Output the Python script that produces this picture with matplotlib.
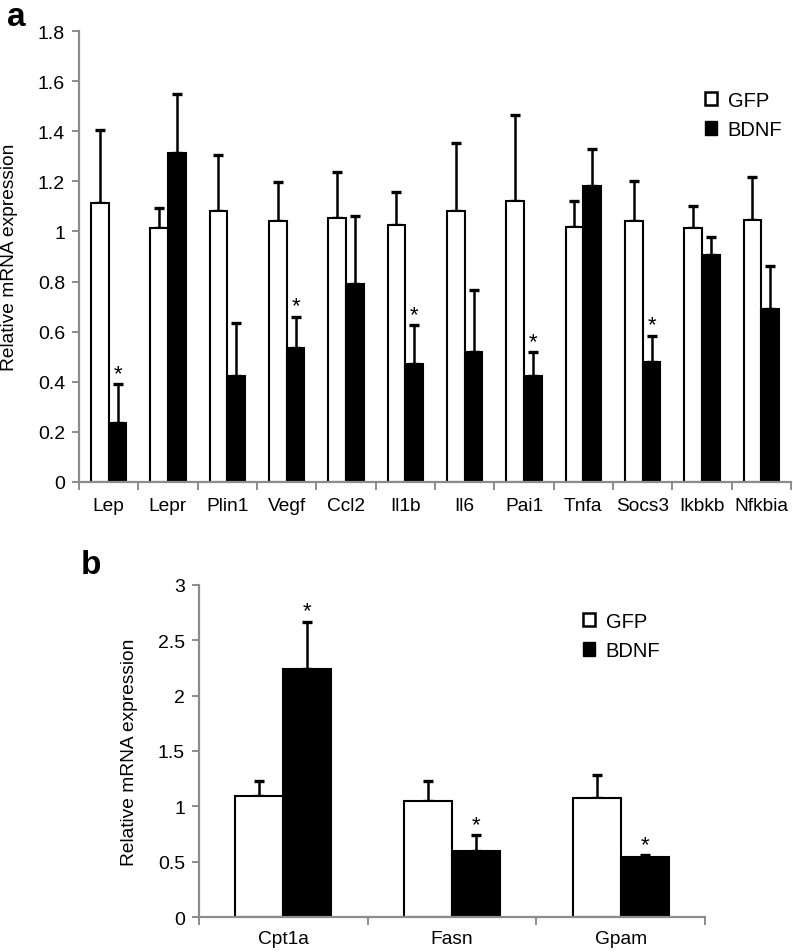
import numpy as np
import matplotlib.pyplot as plt
from matplotlib.patches import Patch

plt.rcParams['font.family'] = ['Liberation Sans', 'DejaVu Sans']

# panel a
genes_a = ["Lep", "Lepr", "Plin1", "Vegf", "Ccl2", "Il1b", "Il6", "Pai1", "Tnfa", "Socs3", "Ikbkb", "Nfkbia"]
gfp_a = [1.113, 1.013, 1.081, 1.040, 1.053, 1.026, 1.081, 1.123, 1.019, 1.041, 1.012, 1.047]
gfp_a_err = [0.292, 0.080, 0.224, 0.156, 0.183, 0.130, 0.271, 0.343, 0.102, 0.161, 0.088, 0.169]
bdnf_a = [0.235, 1.313, 0.424, 0.533, 0.790, 0.472, 0.520, 0.424, 1.182, 0.479, 0.906, 0.689]
bdnf_a_err = [0.155, 0.234, 0.210, 0.127, 0.271, 0.154, 0.247, 0.096, 0.148, 0.105, 0.073, 0.174]
sig_a = [True, False, False, True, False, True, False, True, False, True, False, False]

# panel b
genes_b = ["Cpt1a", "Fasn", "Gpam"]
gfp_b = [1.091, 1.051, 1.076]
gfp_b_err = [0.141, 0.181, 0.207]
bdnf_b = [2.239, 0.600, 0.541]
bdnf_b_err = [0.427, 0.142, 0.021]
sig_b = [True, True, True]

W, H = 793, 953
fig = plt.figure(figsize=(W / 100, H / 100), dpi=100)

spine_col = "#8c8c8c"


def draw_panel(ax, genes, gfp, gfp_err, bdnf, bdnf_err, sig, ymax, ystep, bw, xpad):
    x = np.arange(len(genes))
    ax.bar(x - bw / 2, gfp, bw, color="white", edgecolor="black", linewidth=1.5, zorder=2)
    ax.bar(x + bw / 2, bdnf, bw, color="black", edgecolor="black", linewidth=1.5, zorder=2)
    ax.errorbar(x - bw / 2, gfp, yerr=[np.zeros(len(x)), gfp_err], fmt="none",
                ecolor="black", elinewidth=1.8, capsize=3.8, capthick=2.4, zorder=1)
    ax.errorbar(x + bw / 2, bdnf, yerr=[np.zeros(len(x)), bdnf_err], fmt="none",
                ecolor="black", elinewidth=1.8, capsize=3.8, capthick=2.4, zorder=1)
    for i in range(len(x)):
        if sig[i]:
            ax.text(x[i] + bw / 2, bdnf[i] + bdnf_err[i], "*",
                    ha="center", va="bottom", fontsize=16)
    ax.set_xlim(-0.5, len(x) - 0.5)
    ax.set_ylim(0, ymax)
    ax.set_yticks(np.arange(0, ymax + ystep / 2, ystep))
    ax.set_xticks(x)
    ax.set_xticklabels(genes, fontsize=13.8)
    ax.tick_params(axis="x", length=0, pad=xpad)
    ax.set_xticks(np.arange(-0.5, len(x)), minor=True)
    ax.tick_params(axis="x", which="minor", length=6, width=1.4, color=spine_col, direction="out")
    ax.tick_params(axis="y", length=5, width=1.4, color=spine_col, labelsize=14, pad=5)
    for s in ["top", "right"]:
        ax.spines[s].set_visible(False)
    for s in ["left", "bottom"]:
        ax.spines[s].set_color(spine_col)
        ax.spines[s].set_linewidth(1.6)
    ax.set_ylabel("Relative mRNA expression", fontsize=13.8)
    ax.legend(handles=[Patch(facecolor="white", edgecolor="black", linewidth=1.8, label="GFP"),
                       Patch(facecolor="black", edgecolor="black", label="BDNF")],
              frameon=False, fontsize=14.5, handlelength=0.62, handleheight=0.62,
              handletextpad=0.5, labelspacing=0.5, borderpad=0, borderaxespad=0)


# panel a axes
axa = fig.add_axes([79 / W, (H - 483) / H, 712 / W, 451 / H])
draw_panel(axa, genes_a, gfp_a, gfp_a_err, bdnf_a, bdnf_a_err, sig_a, 1.8, 0.2, 0.30, 11)
axa.set_yticklabels(["0", "0.2", "0.4", "0.6", "0.8", "1", "1.2", "1.4", "1.6", "1.8"])
axa.yaxis.set_label_coords(-0.086, 0.5)
axa.legend_.set_bbox_to_anchor((705 / W, (H - 92) / H), transform=fig.transFigure)
axa.legend_._loc = 2

# panel b axes
axb = fig.add_axes([199 / W, (H - 918.3) / H, 506 / W, 332.7 / H])
draw_panel(axb, genes_b, gfp_b, gfp_b_err, bdnf_b, bdnf_b_err, sig_b, 3.0, 0.5, 0.285, 9)
axb.set_yticklabels(["0", "0.5", "1", "1.5", "2", "2.5", "3"])
axb.yaxis.set_label_coords(-0.12, 0.5)
axb.legend_.set_bbox_to_anchor((583 / W, (H - 613) / H), transform=fig.transFigure)
axb.legend_._loc = 2

fig.text(7 / W, 1 - 17 / H, "a", fontsize=24, fontweight="bold", va="center", ha="left")
fig.text(81 / W, 1 - 566 / H, "b", fontsize=24, fontweight="bold", va="center", ha="left")

fig.savefig("out.png", dpi=100)
